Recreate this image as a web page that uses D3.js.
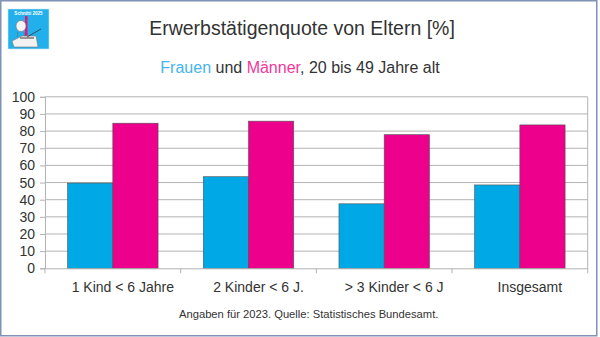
<!DOCTYPE html>
<html>
<head>
<meta charset="utf-8">
<script src="https://cdn.jsdelivr.net/npm/d3@7"></script>
<style>
  body { margin: 0; background: #fff; }
  svg { display: block; font-family: "Liberation Sans", Arial, sans-serif; }
</style>
</head>
<body>
<svg id="chart"></svg>
<script>
// data
var categories = ["1 Kind < 6 Jahre", "2 Kinder < 6 J.", "> 3 Kinder < 6 J", "Insgesamt"];
var frauen = [49.7, 53.4, 37.6, 48.6];
var maenner = [84.6, 85.8, 77.9, 83.6];
var yTicks = [0, 10, 20, 30, 40, 50, 60, 70, 80, 90, 100];
var seriesNames = ["Frauen", "Männer"];

var width = 600, height = 337;
var svg = d3.select("#chart").attr("width", width).attr("height", height);

var blue = "#00a8e6", pink = "#ec008c";

// outer frame
svg.append("rect")
    .attr("x", 0.75).attr("y", 0.75)
    .attr("width", 596).attr("height", 335)
    .attr("fill", "#fff")
    .attr("stroke", "#8092b5")
    .attr("stroke-width", 1.5);

// logo (simple sketch)
var logo = svg.append("g").attr("transform", "translate(8,9)");
logo.append("rect").attr("width", 41).attr("height", 40).attr("fill", "#22b0ec")
    .attr("stroke", "#cfe6f5").attr("stroke-width", 0.6);
logo.append("rect").attr("x", 17).attr("y", 7).attr("width", 2.5).attr("height", 24).attr("fill", "#e8137f");
logo.append("text").attr("x", 20.5).attr("y", 6).attr("text-anchor", "middle")
    .attr("font-size", 4.6).attr("font-weight", "bold").attr("fill", "#fff").text("Schnitti 2025");
logo.append("ellipse").attr("cx", 13).attr("cy", 17).attr("rx", 5).attr("ry", 5.5)
    .attr("fill", "#f4f4f4").attr("stroke", "#777").attr("stroke-width", 0.6);
logo.append("path").attr("d", "M7,14 Q13,8 20,13 L18,12 Q13,9 8,13 Z").attr("fill", "#999");
logo.append("path").attr("d", "M10,23 L9,28 M16,23 L17,28").attr("stroke", "#666").attr("stroke-width", 0.6);
logo.append("path").attr("d", "M4,32 L14,27 L28,27 L30,38 L6,38 Z")
    .attr("fill", "#f2f2f2").attr("stroke", "#777").attr("stroke-width", 0.6);
logo.append("path").attr("d", "M19,28 L33,20").attr("stroke", "#333").attr("stroke-width", 0.8);
logo.append("path").attr("d", "M12,29 L26,29").attr("stroke", "#555").attr("stroke-width", 1.2);

// titles
svg.append("text")
    .attr("x", 302).attr("y", 35)
    .attr("text-anchor", "middle")
    .attr("font-size", 19.5)
    .attr("fill", "#333")
    .text("Erwerbstätigenquote von Eltern [%]");

var sub = svg.append("text")
    .attr("x", 300).attr("y", 73)
    .attr("text-anchor", "middle")
    .attr("font-size", 16)
    .attr("fill", "#333");
sub.append("tspan").attr("fill", "#45b4f0").text(seriesNames[0]);
sub.append("tspan").text(" und ");
sub.append("tspan").attr("fill", "#f0389a").text(seriesNames[1]);
sub.append("tspan").text(", 20 bis 49 Jahre alt");

// plot area
var plot = { left: 45, right: 587.7, top: 96.8, bottom: 268.3 };

var x0 = d3.scaleBand()
    .domain(categories)
    .range([plot.left, plot.right])
    .paddingInner(0).paddingOuter(0);

var x1 = d3.scaleBand()
    .domain(seriesNames)
    .range([0, x0.bandwidth()])
    .paddingInner(0)
    .paddingOuter(0.5);

var y = d3.scaleLinear()
    .domain([0, 100])
    .range([plot.bottom, plot.top]);

// grid
svg.append("g")
    .selectAll("line")
    .data(yTicks.slice(1))
    .join("line")
      .attr("x1", plot.left).attr("x2", plot.right)
      .attr("y1", d => y(d)).attr("y2", d => y(d))
      .attr("stroke", "#b3b3b3").attr("stroke-width", 1);

// right border of plot
svg.append("line")
    .attr("x1", plot.right).attr("x2", plot.right)
    .attr("y1", plot.top).attr("y2", plot.bottom)
    .attr("stroke", "#b3b3b3");

// bars
var rows = categories.map((c, i) => ({ cat: c, values: [frauen[i], maenner[i]] }));
var colors = d3.scaleOrdinal().domain(seriesNames).range([blue, pink]);

svg.append("g")
  .selectAll("g")
  .data(rows)
  .join("g")
    .attr("transform", d => "translate(" + x0(d.cat) + ",0)")
  .selectAll("rect")
  .data(d => seriesNames.map((s, j) => ({ s: s, v: d.values[j] })))
  .join("rect")
    .attr("x", d => x1(d.s))
    .attr("width", x1.bandwidth())
    .attr("y", d => y(d.v))
    .attr("height", d => y(0) - y(d.v))
    .attr("fill", d => colors(d.s))
    .attr("stroke", "#505050")
    .attr("stroke-width", 0.6);

// y axis
var yAxis = d3.axisLeft(y).tickValues(yTicks).tickSize(5).tickPadding(5);
var gy = svg.append("g")
    .attr("transform", "translate(" + plot.left + ",0)")
    .call(yAxis);
gy.select(".domain").attr("stroke", "#b3b3b3");
gy.selectAll(".tick line").attr("stroke", "#b3b3b3");
gy.selectAll("text").attr("font-size", 14).attr("fill", "#333")
    .attr("font-family", "Liberation Sans, Arial, sans-serif");

// x axis
var xAxis = d3.axisBottom(x0).tickSize(0).tickPadding(0);
var gx = svg.append("g")
    .attr("transform", "translate(0," + plot.bottom + ")")
    .call(xAxis);
gx.select(".domain").attr("stroke", "#b3b3b3");
gx.selectAll("text")
    .attr("font-size", 14).attr("fill", "#333")
    .attr("font-family", "Liberation Sans, Arial, sans-serif")
    .attr("dx", 10).attr("dy", 0).attr("y", 24);

// x tick marks at band boundaries
svg.append("g")
  .selectAll("line")
  .data(categories.concat(["end"]))
  .join("line")
    .attr("x1", (d, i) => i < categories.length ? x0(d) : plot.right)
    .attr("x2", (d, i) => i < categories.length ? x0(d) : plot.right)
    .attr("y1", plot.bottom).attr("y2", plot.bottom + 5)
    .attr("stroke", "#b3b3b3");

// footer
svg.append("text")
    .attr("x", 308.7).attr("y", 317.7)
    .attr("text-anchor", "middle")
    .attr("font-size", 11.2)
    .attr("fill", "#333")
    .text("Angaben für 2023. Quelle: Statistisches Bundesamt.");
</script>
</body>
</html>
